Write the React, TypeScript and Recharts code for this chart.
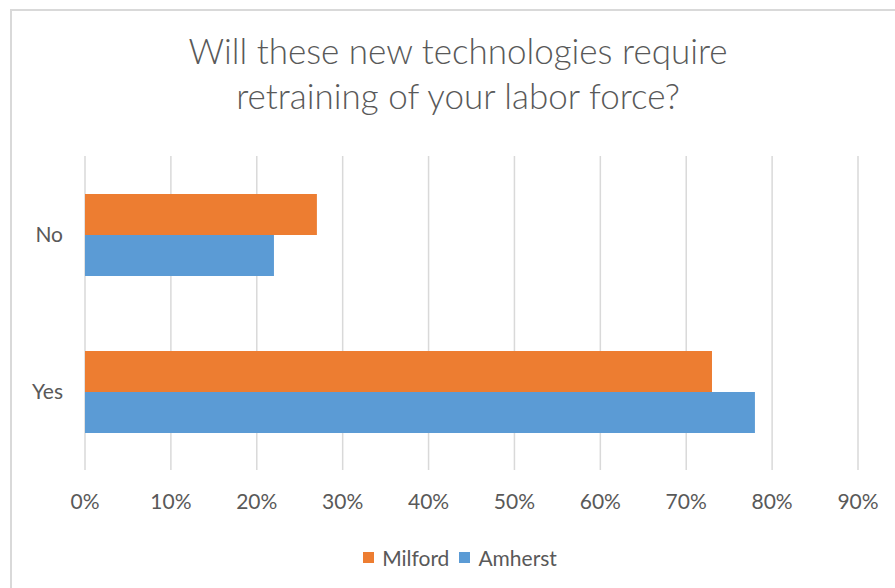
import { Bar, BarChart, CartesianGrid, Legend, XAxis, YAxis } from "recharts";

const answers = ["No", "Yes"];
const seriesNames = ["Milford", "Amherst"];
const milford = [27, 73];
const amherst = [22, 78];
const percentTicks = [0, 10, 20, 30, 40, 50, 60, 70, 80, 90];

const data = answers.map((answer, i) => ({
  answer,
  Milford: milford[i],
  Amherst: amherst[i],
}));

const FONT = "Lato, 'Open Sans', sans-serif";
const TEXT = "#595959";

function LegendRow(props: any) {
  const items = [...(props.payload || [])].sort(
    (a: any, b: any) => seriesNames.indexOf(a.value) - seriesNames.indexOf(b.value)
  );
  return (
    <div
      style={{
        display: "flex",
        justifyContent: "center",
        alignItems: "center",
        height: 24,
        fontFamily: FONT,
        fontSize: 21,
        color: TEXT,
      }}
    >
      {items.map((item: any) => (
        <div key={item.value} style={{ display: "flex", alignItems: "center", marginRight: 10 }}>
          <span style={{ width: 11, height: 11, background: item.color, marginRight: 8, display: "inline-block" }} />
          <span>{item.value}</span>
        </div>
      ))}
    </div>
  );
}

export default function App() {
  return (
    <div
      style={{
        position: "absolute",
        left: 0,
        top: 0,
        width: 895,
        height: 588,
        overflow: "hidden",
        background: "#fff",
        fontFamily: FONT,
      }}
    >
      {/* chart frame, cut off at the right and bottom like the reference */}
      <div
        style={{
          position: "absolute",
          left: 10,
          top: 9,
          width: 1000,
          height: 1000,
          border: "2px solid #D9D9D9",
        }}
      />
      <div
        style={{
          position: "absolute",
          left: 0,
          top: 28,
          width: 916,
          textAlign: "center",
          fontSize: 35,
          fontWeight: 300,
          lineHeight: "45px",
          color: TEXT,
        }}
      >
        Will these new technologies require
        <br />
        retraining of your labor force?
      </div>
      <div style={{ position: "absolute", left: 0, top: 0 }}>
        <BarChart
          width={895}
          height={588}
          data={data}
          layout="vertical"
          barGap={0}
          margin={{ top: 156, right: 37, left: 11, bottom: 19 }}
        >
          <CartesianGrid horizontal={false} stroke="#D9D9D9" strokeWidth={1.5} />
          <XAxis
            type="number"
            domain={[0, 90]}
            ticks={percentTicks}
            tickFormatter={(v: number) => `${v}%`}
            axisLine={false}
            tickLine={false}
            tickSize={0}
            tickMargin={24}
            height={75}
            tick={{ fill: TEXT, fontSize: 21, fontFamily: FONT }}
          />
          <YAxis
            type="category"
            dataKey="answer"
            width={74}
            axisLine={false}
            tickLine={false}
            tickSize={0}
            tickMargin={22}
            tick={{ fill: TEXT, fontSize: 21, fontFamily: FONT }}
          />
          <Legend
            verticalAlign="bottom"
            content={<LegendRow />}
            wrapperStyle={{ left: 0, width: 930 }}
          />
          <Bar dataKey="Milford" fill="#ED7D31" barSize={41} isAnimationActive={false} />
          <Bar dataKey="Amherst" fill="#5B9BD5" barSize={41} isAnimationActive={false} />
        </BarChart>
      </div>
    </div>
  );
}
